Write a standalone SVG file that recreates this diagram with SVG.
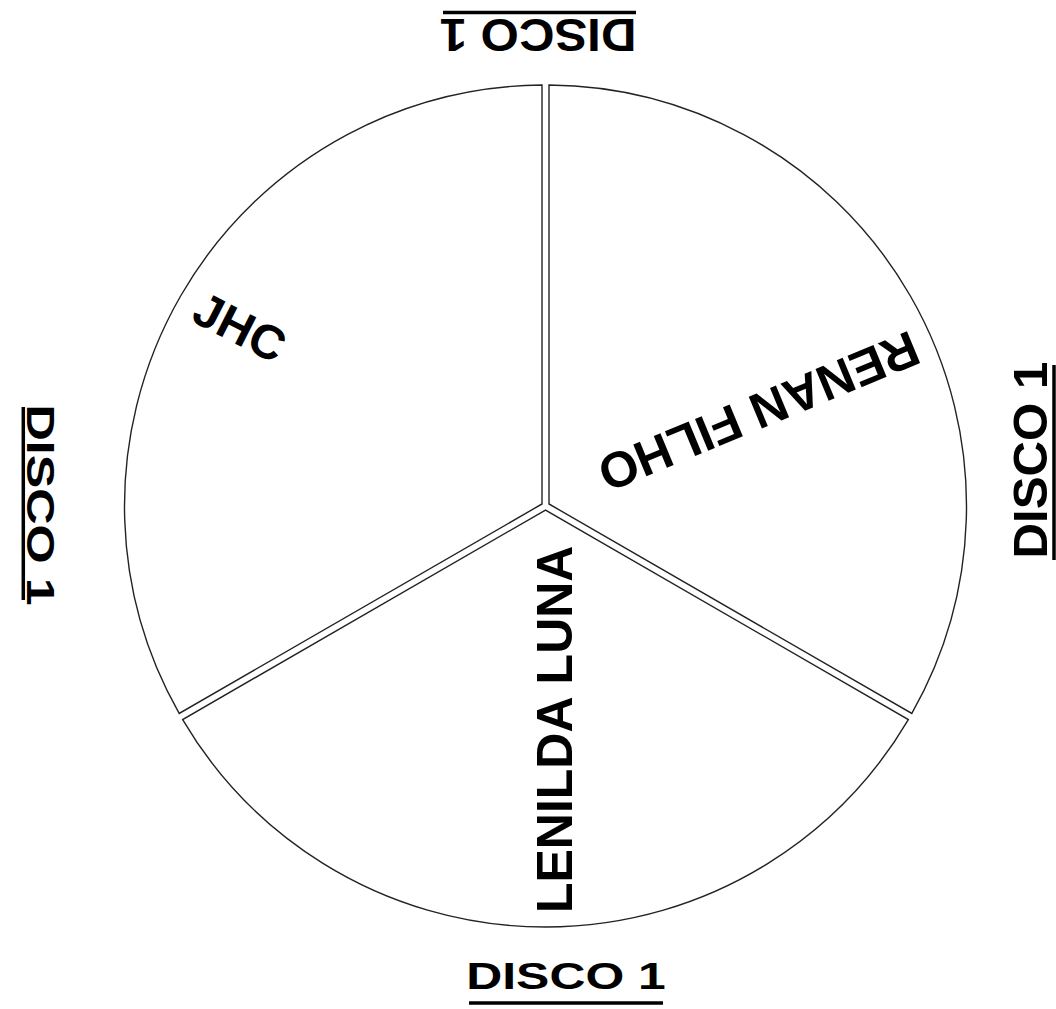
<svg xmlns="http://www.w3.org/2000/svg" width="1056" height="1009" viewBox="0 0 1056 1009">
<style>
.sec{fill:#fff;stroke:#222;stroke-width:1.4;stroke-linejoin:miter}
.lbl{font-family:"Liberation Sans",Arial,sans-serif;font-weight:bold;fill:#000}
.ul{stroke:#000;stroke-width:3.5}
</style>
<rect width="1056" height="1009" fill="#fff"/>
<g id="sector-jhc">
<path class="sec" d="M542,503.98 L542,85 A421,421 0 0 0 179.17,713.46 Z"/>
<text class="lbl" font-size="48" text-anchor="middle" transform="translate(240,327) rotate(27)" y="17">JHC</text>
</g>
<g id="sector-renan">
<path class="sec" d="M549,503.98 L549,85 A421,421 0 0 1 911.83,713.46 Z"/>
<text class="lbl" font-size="50" text-anchor="middle" transform="translate(759,412) rotate(157.5)" y="18">RENAN FILHO</text>
</g>
<g id="sector-lenilda">
<path class="sec" d="M545.5,510.04 L182.67,719.52 A421,421 0 0 0 908.33,719.52 Z"/>
<text class="lbl" font-size="50" text-anchor="middle" transform="translate(572,729.3) rotate(-90)">LENILDA LUNA</text>
</g>
<g id="disco-top">
<text class="lbl" font-size="46.5" text-anchor="middle" transform="translate(538,19.3) rotate(180) scale(1.058,1)">DISCO 1</text>
<line class="ul" x1="443" y1="12.5" x2="636" y2="12.5"/>
</g>
<g id="disco-bottom">
<text class="lbl" font-size="37.5" text-anchor="middle" transform="translate(566,989.3) scale(1.33,1)">DISCO 1</text>
<line class="ul" x1="469" y1="1003" x2="663" y2="1003"/>
</g>
<g id="disco-left">
<text class="lbl" font-size="39" text-anchor="middle" transform="translate(26.7,505) rotate(90) scale(1.29,1)">DISCO 1</text>
<line class="ul" x1="23.3" y1="407" x2="23.3" y2="600"/>
</g>
<g id="disco-right">
<text class="lbl" font-size="47.5" text-anchor="middle" transform="translate(1046.7,460) rotate(-90) scale(1.036,1)">DISCO 1</text>
<line class="ul" x1="1054" y1="365" x2="1054" y2="560"/>
</g>
<g id="connectors"></g>
</svg>
